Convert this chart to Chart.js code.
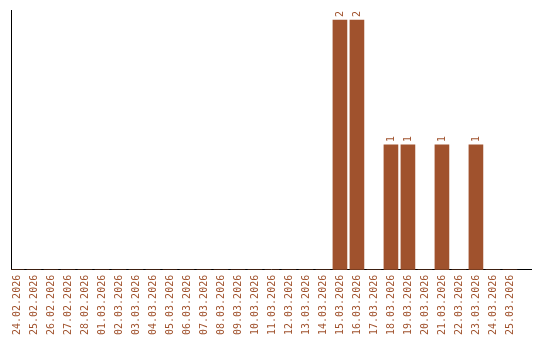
<!DOCTYPE html>
<html>
<head>
<meta charset="utf-8">
<script src="https://cdn.jsdelivr.net/npm/chart.js@4.4.1/dist/chart.umd.min.js"></script>
<style>
    html, body { margin: 0; padding: 0; background: #ffffff; }
    #wrap { width: 540px; height: 340px; }
</style>
</head>
<body>
<div id="wrap"><canvas id="graph"></canvas></div>
<script>
// Dates shown on the x axis
const dateLabels = [
    "24.02.2026", "25.02.2026", "26.02.2026", "27.02.2026", "28.02.2026",
    "01.03.2026", "02.03.2026", "03.03.2026", "04.03.2026", "05.03.2026",
    "06.03.2026", "07.03.2026", "08.03.2026", "09.03.2026", "10.03.2026",
    "11.03.2026", "12.03.2026", "13.03.2026", "14.03.2026", "15.03.2026",
    "16.03.2026", "17.03.2026", "18.03.2026", "19.03.2026", "20.03.2026",
    "21.03.2026", "22.03.2026", "23.03.2026", "24.03.2026", "25.03.2026"
];
// Count per day
const dayCounts = [
    0, 0, 0, 0, 0,
    0, 0, 0, 0, 0,
    0, 0, 0, 0, 0,
    0, 0, 0, 0, 2,
    2, 0, 1, 1, 0,
    1, 0, 1, 0, 0
];

const barColor = "#A0522D";
const monoFont = "'DejaVu Sans Mono', 'Liberation Mono', monospace";

// Draw the value above each non-zero bar, rotated like the ticks
const valueLabels = {
    id: "valueLabels",
    afterDatasetsDraw(chart) {
        const ctx = chart.ctx;
        const meta = chart.getDatasetMeta(0);
        ctx.save();
        ctx.fillStyle = barColor;
        ctx.font = "10px " + monoFont;
        ctx.textAlign = "left";
        ctx.textBaseline = "middle";
        meta.data.forEach((bar, i) => {
            if (!dayCounts[i]) return;
            ctx.save();
            ctx.translate(bar.x, bar.y - 3);
            ctx.rotate(-Math.PI / 2);
            ctx.fillText(String(dayCounts[i]), 0, 0);
            ctx.restore();
        });
        ctx.restore();
    }
};

const points = dayCounts.map((v, i) => ({ x: i, y: v }));

new Chart(document.getElementById("graph"), {
    type: "bar",
    data: {
        datasets: [{
            data: points,
            backgroundColor: barColor,
            borderWidth: 0,
            barThickness: 14
        }]
    },
    options: {
        responsive: true,
        maintainAspectRatio: false,
        animation: false,
        layout: { padding: { left: 11, top: 10, right: 9, bottom: 0 } },
        plugins: {
            legend: { display: false },
            tooltip: { enabled: false }
        },
        scales: {
            x: {
                type: "linear",
                offset: false,
                min: -0.35,
                max: 30.24,
                // keep only one tick per date
                afterBuildTicks: axis => {
                    axis.ticks = axis.ticks.filter(t => t.value >= 0 && t.value < dateLabels.length);
                },
                grid: { display: false, drawTicks: false },
                border: { display: true, color: "#000000", width: 1 },
                ticks: {
                    stepSize: 1,
                    includeBounds: false,
                    autoSkip: false,
                    minRotation: 90,
                    maxRotation: 90,
                    padding: 5,
                    color: barColor,
                    font: { family: monoFont, size: 10 },
                    callback: v => dateLabels[v] || ""
                }
            },
            y: {
                min: 0,
                max: 2.08,
                grid: { display: false, drawTicks: false },
                border: { display: true, color: "#000000", width: 1 },
                ticks: { display: false }
            }
        }
    },
    plugins: [valueLabels]
});
</script>
</body>
</html>
